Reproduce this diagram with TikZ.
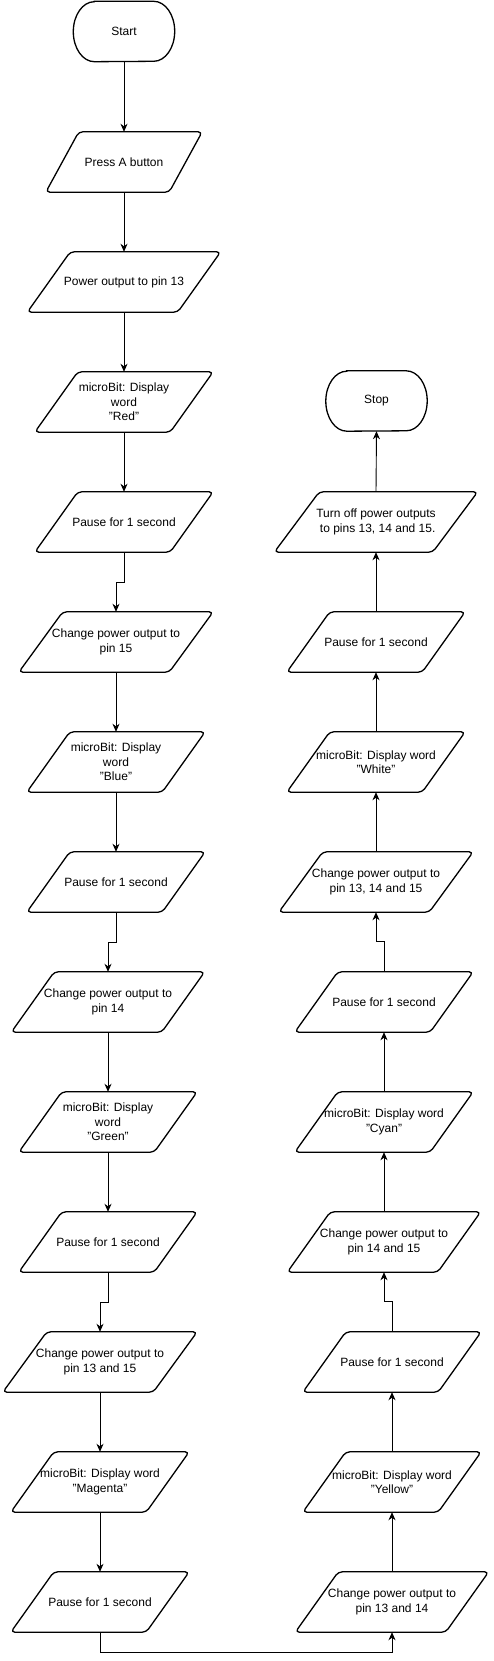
\documentclass[tikz,border=0pt]{standalone}
\usepackage{fontspec}
\setmainfont{Liberation Sans}
\usetikzlibrary{arrows.meta}
\tikzset{
  lbl/.style={align=center, font=\fontsize{12}{14.4}\selectfont, inner sep=0pt, minimum height=60pt},
  io/.style={draw, line width=1.3pt, rounded corners=4pt, line join=round},
  termline/.style={draw, line width=1.3pt},
  conn/.style={line width=0.9pt, -{Stealth[length=8pt,width=7pt,inset=2.5pt]}},
}
\newcommand{\parabox}[6]{%
  \node[lbl, minimum width=#4pt] (#1) at (#2,#3) {#6};
  \draw[io] ([xshift=#5pt]#1.north west) -- (#1.north east) -- ([xshift=-#5pt]#1.south east) -- (#1.south west) -- cycle;
}
\newcommand{\termbox}[4]{%
  \node[lbl, minimum width=101pt] (#1) at (#2,#3) {#4};
  \draw[termline] ([xshift=21pt]#1.north west) -- ([xshift=-21pt]#1.north east)
    arc[start angle=90, end angle=-90, x radius=21pt, y radius=30pt]
    -- ([xshift=21pt]#1.south west)
    arc[start angle=270, end angle=90, x radius=21pt, y radius=30pt] -- cycle;
}
\begin{document}
\begin{tikzpicture}[x=1pt,y=-1pt]
\useasboundingbox (0,0) rectangle (493,1661);
% left column
\termbox{start}{124}{31.5}{Start}
\parabox{pa}{124}{162}{156}{33}{Press A button}
\parabox{p13}{124}{282}{193}{43}{Power output to pin 13}
\parabox{red}{124}{402}{178}{43}{microBit: Display\\word\\"Red"}
\parabox{w1}{124}{522}{178}{43}{Pause for 1 second}
\parabox{c15}{116}{642}{194}{44}{Change power output to\\pin 15}
\parabox{blue}{116}{762}{178}{43}{microBit: Display\\word\\"Blue"}
\parabox{w2}{116}{882}{178}{43}{Pause for 1 second}
\parabox{c14}{108}{1002}{193}{43}{Change power output to\\pin 14}
\parabox{green}{108}{1122}{178}{43}{microBit: Display\\word\\"Green"}
\parabox{w3}{108}{1242}{178}{43}{Pause for 1 second}
\parabox{c1315}{100}{1362}{194}{44}{Change power output to\\pin 13 and 15}
\parabox{mag}{100}{1482}{178}{43}{microBit: Display word\\"Magenta"}
\parabox{w4}{100}{1602}{178}{43}{Pause for 1 second}
% right column
\parabox{c1314}{392}{1602}{193}{43}{Change power output to\\pin 13 and 14}
\parabox{yel}{392}{1482}{178}{43}{microBit: Display word\\"Yellow"}
\parabox{w5}{392}{1362}{178}{43}{Pause for 1 second}
\parabox{c1415}{384}{1242}{193}{43}{Change power output to\\pin 14 and 15}
\parabox{cyan}{384}{1122}{178}{43}{microBit: Display word\\"Cyan"}
\parabox{w6}{384}{1002}{178}{43}{Pause for 1 second}
\parabox{call}{376}{882}{194}{44}{Change power output to\\pin 13, 14 and 15}
\parabox{white}{376}{762}{178}{43}{microBit: Display word\\"White"}
\parabox{w7}{376}{642}{178}{43}{Pause for 1 second}
\parabox{off}{376}{522}{203}{45}{Turn off power outputs\\\ to pins 13, 14 and 15.}
\termbox{stop}{376.5}{401}{Stop}
% connectors
\draw[conn] (start.south) -- (pa.north);
\draw[conn] (pa.south) -- (p13.north);
\draw[conn] (p13.south) -- (red.north);
\draw[conn] (red.south) -- (w1.north);
\draw[conn] (w1.south) -- ++(0,30) -| (c15.north);
\draw[conn] (c15.south) -- (blue.north);
\draw[conn] (blue.south) -- (w2.north);
\draw[conn] (w2.south) -- ++(0,30) -| (c14.north);
\draw[conn] (c14.south) -- (green.north);
\draw[conn] (green.south) -- (w3.north);
\draw[conn] (w3.south) -- ++(0,30) -| (c1315.north);
\draw[conn] (c1315.south) -- (mag.north);
\draw[conn] (mag.south) -- (w4.north);
\draw[conn] (w4.south) -- ++(0,20) -| (c1314.south);
\draw[conn] (c1314.north) -- (yel.south);
\draw[conn] (yel.north) -- (w5.south);
\draw[conn] (w5.north) -- ++(0,-30) -| (c1415.south);
\draw[conn] (c1415.north) -- (cyan.south);
\draw[conn] (cyan.north) -- (w6.south);
\draw[conn] (w6.north) -- ++(0,-30) -| (call.south);
\draw[conn] (call.north) -- (white.south);
\draw[conn] (white.north) -- (w7.south);
\draw[conn] (w7.north) -- (off.south);
\draw[conn] (off.north) -- (stop.south);
\end{tikzpicture}
\end{document}
